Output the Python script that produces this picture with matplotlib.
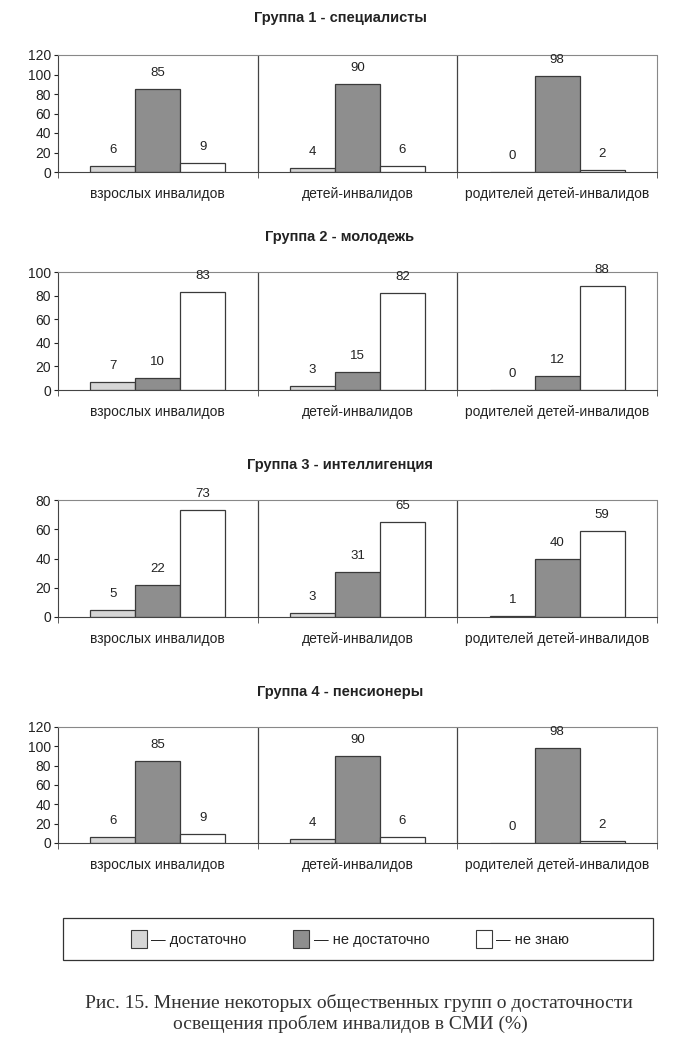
import numpy as np
import matplotlib
matplotlib.use("Agg")
import matplotlib.pyplot as plt
from matplotlib.patches import Patch, Rectangle

plt.rcParams['font.family'] = ['Liberation Sans', 'DejaVu Sans']

categories = ['взрослых инвалидов', 'детей-инвалидов', 'родителей детей-инвалидов']
series_names = ['— достаточно', '— не достаточно', '— не знаю']

titles = ['Группа 1 - специалисты', 'Группа 2 - молодежь',
          'Группа 3 - интеллигенция', 'Группа 4 - пенсионеры']

g1_enough = [6, 4, 0]
g1_not_enough = [85, 90, 98]
g1_dont_know = [9, 6, 2]

g2_enough = [7, 3, 0]
g2_not_enough = [10, 15, 12]
g2_dont_know = [83, 82, 88]

g3_enough = [5, 3, 1]
g3_not_enough = [22, 31, 40]
g3_dont_know = [73, 65, 59]

g4_enough = [6, 4, 0]
g4_not_enough = [85, 90, 98]
g4_dont_know = [9, 6, 2]

y_max = [120, 100, 80, 120]

groups = [
    (g1_enough, g1_not_enough, g1_dont_know),
    (g2_enough, g2_not_enough, g2_dont_know),
    (g3_enough, g3_not_enough, g3_dont_know),
    (g4_enough, g4_not_enough, g4_dont_know),
]

colors = ['#d6d6d6', '#8e8e8e', '#ffffff']
text_col = '#222222'

W, H = 698, 1055
fig = plt.figure(figsize=(W / 100, H / 100), dpi=100)

# pixel positions (top, bottom) of each panel, and title y
panels = [(55, 172, 18), (272, 390, 237), (500, 617, 465), (727, 843, 692)]
left_px, right_px = 58, 657

x = np.arange(len(categories))
bw = 0.225

for i, (vals, (top, bot, ty)) in enumerate(zip(groups, panels)):
    ax = fig.add_axes([left_px / W, 1 - bot / H, (right_px - left_px) / W, (bot - top) / H])
    for j, v in enumerate(vals):
        bars = ax.bar(x + (j - 1) * bw, v, width=bw, color=colors[j],
                      edgecolor='#3a3a3a', linewidth=0.9)
        for b, val in zip(bars, v):
            ax.annotate(str(val), (b.get_x() + b.get_width() / 2, b.get_height()),
                        xytext=(0, 11.5), textcoords='offset points',
                        ha='center', va='center', fontsize=9.5, color=text_col)
    ax.set_xlim(-0.5, len(categories) - 0.5)
    ax.set_ylim(0, y_max[i])
    ax.set_yticks(np.arange(0, y_max[i] + 1, 20))
    ax.tick_params(axis='y', labelsize=10, length=3, colors=text_col, pad=2)
    ax.set_xticks(x)
    ax.set_xticklabels(categories, fontsize=10)
    ax.tick_params(axis='x', length=0, pad=11, colors=text_col)
    ax.set_xticks(np.arange(-0.5, len(categories)), minor=True)
    ax.tick_params(axis='x', which='minor', length=4, direction='out', color='#444')
    for sep in np.arange(0.5, len(categories) - 0.5):
        ax.axvline(sep, color='#444', linewidth=0.9)
    ax.spines['left'].set_color('#444')
    ax.spines['bottom'].set_color('#444')
    for s in ['top', 'right']:
        ax.spines[s].set_linestyle((0, (1, 1)))
        ax.spines[s].set_color('#888')
        ax.spines[s].set_linewidth(0.8)
    fig.text(340 / W, 1 - ty / H, titles[i], ha='center', va='center',
             fontsize=10.5, fontweight='bold', color=text_col)

# legend box
fig.patches.append(Rectangle((63 / W, 1 - 960 / H), 590 / W, 42 / H,
                             transform=fig.transFigure, fill=False,
                             edgecolor='#333', linewidth=0.9))
handles = [Patch(facecolor=c, edgecolor='#3a3a3a', linewidth=0.8) for c in colors]
leg = fig.legend(handles, series_names, loc='center', ncol=3,
                 bbox_to_anchor=(350 / W, 1 - 939 / H),
                 fontsize=10.5, frameon=False,
                 handlelength=1.1, handleheight=1.5, handletextpad=0.3,
                 columnspacing=3.2)
for t in leg.get_texts():
    t.set_color(text_col)

fig.text(359 / W, 1 - 1003 / H,
         'Рис. 15. Мнение некоторых общественных групп о достаточности',
         ha='center', va='center', fontsize=14, family='Liberation Serif', color='#333')
fig.text(350 / W, 1 - 1024 / H,
         'освещения проблем инвалидов в СМИ (%)',
         ha='center', va='center', fontsize=14, family='Liberation Serif', color='#333')

fig.savefig('out.png', dpi=100)
